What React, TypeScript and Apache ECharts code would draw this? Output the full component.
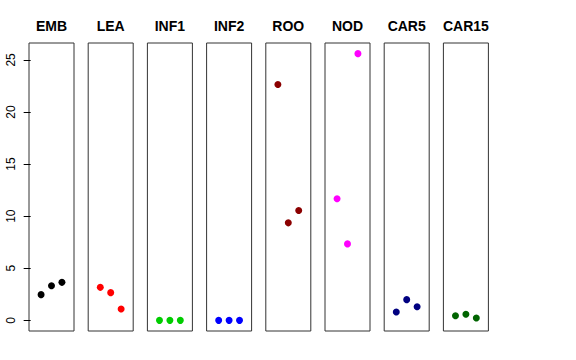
import React, { useEffect, useRef } from "react";
import * as echarts from "echarts";

const categories = ["EMB", "LEA", "INF1", "INF2", "ROO", "NOD", "CAR5", "CAR15"];
const colors = ["#000000", "#FF0000", "#00CD00", "#0000FF", "#8B0000", "#FF00FF", "#000080", "#006400"];
const xPositions = [1, 2, 3];
const embValues = [2.47, 3.33, 3.65];
const leaValues = [3.17, 2.66, 1.09];
const inf1Values = [0.0, 0.0, 0.0];
const inf2Values = [0.0, 0.0, 0.0];
const rooValues = [22.63, 9.36, 10.54];
const nodValues = [11.67, 7.34, 25.6];
const car5Values = [0.8, 1.99, 1.31];
const car15Values = [0.45, 0.58, 0.22];
const yTicks = [0, 5, 10, 15, 20, 25];

const seriesValues = [embValues, leaValues, inf1Values, inf2Values, rooValues, nodValues, car5Values, car15Values];

const FONT = "'Liberation Sans', Arial, Helvetica, sans-serif";

export default function App() {
  const ref = useRef<HTMLDivElement>(null);
  useEffect(() => {
    if (!ref.current) return;
    const chart = echarts.init(ref.current, undefined, { renderer: "svg" });
    const panelLeft = 29;
    const pitch = 59.2;
    const panelWidth = 45;
    const top = 43;
    const height = 288;
    const grids = categories.map((_, i) => ({
      left: panelLeft + i * pitch,
      top,
      width: panelWidth,
      height,
      show: true,
      borderColor: "#333",
      borderWidth: 1,
      backgroundColor: "transparent",
    }));
    const xAxes = categories.map((_, i) => ({
      type: "value",
      gridIndex: i,
      min: -0.16,
      max: 4.16,
      show: false,
    }));
    const yAxes = categories.map((_, i) => ({
      type: "value",
      gridIndex: i,
      min: -1.02,
      max: 26.62,
      show: i === 0,
      splitLine: { show: false },
      axisLine: { show: false },
      axisTick: {
        show: i === 0,
        length: 7,
        inside: false,
        customValues: yTicks,
        lineStyle: { color: "#000", width: 1 },
      },
      axisLabel: {
        show: i === 0,
        customValues: yTicks,
        rotate: 90,
        margin: 12,
        fontSize: 12,
        color: "#000",
        fontFamily: FONT,
      },
    }));
    const series = categories.map((_, i) => ({
      type: "scatter",
      xAxisIndex: i,
      yAxisIndex: i,
      symbol: "circle",
      symbolSize: 7,
      itemStyle: { color: colors[i], opacity: 1 },
      data: seriesValues[i].map((v, j) => [xPositions[j], v]),
    }));
    const titles = categories.map((c, i) => ({
      text: c,
      left: panelLeft + i * pitch + panelWidth / 2,
      top: 19,
      textAlign: "center",
      padding: 0,
      textStyle: { fontSize: 14, fontWeight: "bold", color: "#000", fontFamily: FONT },
    }));
    chart.setOption({
      animation: false,
      backgroundColor: "#fff",
      title: titles,
      grid: grids,
      xAxis: xAxes,
      yAxis: yAxes,
      series,
    });
    return () => chart.dispose();
  }, []);
  return <div ref={ref} style={{ position: "fixed", left: 0, top: 0, width: 576, height: 360 }} />;
}
